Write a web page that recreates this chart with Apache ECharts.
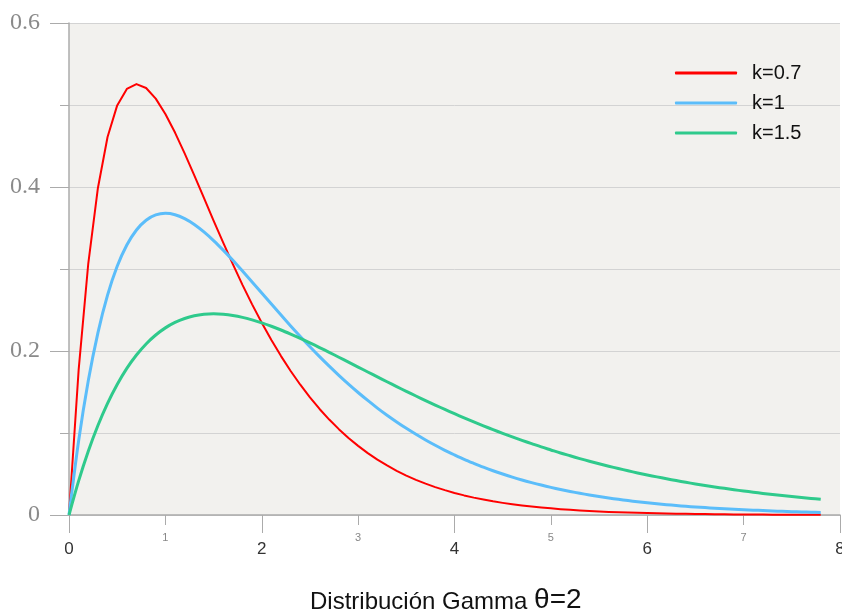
<!DOCTYPE html>
<html>
<head>
<meta charset="utf-8">
<script src="https://cdn.jsdelivr.net/npm/echarts@6/dist/echarts.min.js"></script>
<style>html,body{margin:0;padding:0;background:#fff}#c{width:842px;height:612px}</style>
</head>
<body>
<div id="c"></div>
<script>
var xs = [0,0.1,0.2,0.3,0.4,0.5,0.6,0.7,0.8,0.9,1.0,1.1,1.2,1.3,1.4,1.5,1.6,1.7,1.8,1.9,2.0,2.1,2.2,2.3,2.4,2.5,2.6,2.7,2.8,2.9,3.0,3.1,3.2,3.3,3.4,3.5,3.6,3.7,3.8,3.9,4.0,4.1,4.2,4.3,4.4,4.5,4.6,4.7,4.8,4.9,5.0,5.1,5.2,5.3,5.4,5.5,5.6,5.7,5.8,5.9,6.0,6.1,6.2,6.3,6.4,6.5,6.6,6.7,6.8,6.9,7.0,7.1,7.2,7.3,7.4,7.5,7.6,7.7,7.8];
var seriesNames = ['k=0.7','k=1','k=1.5'];
var k07 = [0,0.1769,0.3067,0.3988,0.4610,0.4995,0.5196,0.5255,0.5207,0.5078,0.4891,
  0.4664,0.4410,0.4142,0.3867,0.3591,0.3321,0.3059,0.2807,0.2569,0.2344,
  0.2134,0.1938,0.1756,0.1589,0.1434,0.1293,0.1164,0.1047,0.0940,0.0843,
  0.0755,0.0675,0.0604,0.0539,0.0481,0.0429,0.0382,0.0340,0.0303,0.0269,
  0.0239,0.0212,0.0189,0.0167,0.0148,0.0131,0.0116,0.0103,0.0091,0.0081,
  0.0071,0.0063,0.0056,0.0049,0.0043,0.0038,0.0034,0.0030,0.0026,0.0023,
  0.0020,0.0018,0.0016,0.0014,0.0012,0.0011,0.0010,0.0008,0.0007,0.0006,
  0.0006,0.0005,0.0004,0.0004,0.0003,0.0003,0.0003,0.0002];
var k1 = [0,0.0905,0.1637,0.2222,0.2681,0.3033,0.3293,0.3476,0.3595,0.3659,0.3679,
  0.3662,0.3614,0.3543,0.3452,0.3347,0.3230,0.3106,0.2975,0.2842,0.2707,
  0.2572,0.2438,0.2306,0.2177,0.2052,0.1931,0.1815,0.1703,0.1596,0.1494,
  0.1397,0.1304,0.1217,0.1135,0.1057,0.0984,0.0915,0.0850,0.0789,0.0733,
  0.0679,0.0630,0.0583,0.0540,0.0500,0.0462,0.0427,0.0395,0.0365,0.0337,
  0.0311,0.0287,0.0265,0.0244,0.0225,0.0207,0.0191,0.0176,0.0162,0.0149,
  0.0137,0.0126,0.0116,0.0106,0.0098,0.0090,0.0082,0.0076,0.0070,0.0064,
  0.0059,0.0054,0.0049,0.0045,0.0041,0.0038,0.0035,0.0032];
var k15 = [0,0.0416,0.0778,0.1092,0.1362,0.1592,0.1788,0.1951,0.2086,0.2195,0.2282,
  0.2348,0.2396,0.2429,0.2447,0.2453,0.2447,0.2433,0.2410,0.2379,0.2343,
  0.2302,0.2256,0.2206,0.2154,0.2099,0.2042,0.1984,0.1924,0.1865,0.1804,
  0.1744,0.1684,0.1625,0.1566,0.1508,0.1451,0.1396,0.1341,0.1287,0.1235,
  0.1184,0.1135,0.1087,0.1041,0.0996,0.0952,0.0910,0.0870,0.0830,0.0793,
  0.0756,0.0722,0.0688,0.0656,0.0625,0.0595,0.0567,0.0539,0.0513,0.0488,
  0.0465,0.0442,0.0420,0.0399,0.0379,0.0360,0.0342,0.0325,0.0308,0.0293,
  0.0278,0.0263,0.0250,0.0237,0.0225,0.0213,0.0202,0.0191];
var titleMain = 'Distribución Gamma ';
var titleTheta = 'θ=2';

function pairs(ys){ return xs.map(function(x,i){ return [x, ys[i]]; }); }

var chart = echarts.init(document.getElementById('c'));
var axisCol = '#ababab';
var gridCol = '#d3d3d3';
chart.setOption({
  animation: false,
  backgroundColor: '#ffffff',
  title: {
    text: '{a|' + titleMain + '}{b|' + titleTheta + '}',
    left: 305, top: 581,
    textStyle: {
      fontWeight: 'normal',
      rich: {
        a: {fontFamily: 'Liberation Sans', fontSize: 24, fontWeight: 'normal', color: '#111', verticalAlign: 'bottom', lineHeight: 28},
        b: {fontFamily: 'Liberation Sans', fontSize: 28, fontWeight: 'normal', color: '#111', verticalAlign: 'bottom', lineHeight: 28}
      }
    }
  },
  legend: {
    orient: 'vertical', left: 675, top: 63, padding: 0,
    itemWidth: 62, itemHeight: 3, itemGap: 10, icon: 'roundRect',
    data: seriesNames,
    textStyle: {fontFamily: 'Liberation Sans', fontSize: 20, color: '#111', lineHeight: 20, padding: [0,0,0,10]}
  },
  grid: {left: 69, right: 2, top: 23, bottom: 97, show: true, backgroundColor: '#f2f1ee', borderWidth: 0, outerBoundsMode: 'none', containLabel: false},
  xAxis: [{
    type: 'value', position: 'bottom', min: 0, max: 8, interval: 2,
    axisLine: {show: true, onZero: false, lineStyle: {color: axisCol, width: 1.5}},
    axisTick: {show: true, length: 18, lineStyle: {color: axisCol, width: 1}},
    axisLabel: {fontFamily: 'Liberation Sans', fontSize: 17, color: '#333', margin: 26},
    splitLine: {show: false}
  },{
    type: 'value', position: 'bottom', min: 0, max: 8, interval: 1,
    axisLine: {show: false},
    axisTick: {show: true, length: 10, lineStyle: {color: axisCol, width: 1}},
    axisLabel: {fontFamily: 'Liberation Sans', fontSize: 11, color: '#888', margin: 17,
      formatter: function(v){ return (Math.round(v) % 2 === 1) ? String(v) : ''; }},
    splitLine: {show: false}
  }],
  yAxis: [{
    type: 'value', position: 'left', min: 0, max: 0.6, interval: 0.2,
    axisLine: {show: true, onZero: false, lineStyle: {color: axisCol, width: 1.5}},
    axisTick: {show: true, length: 19, lineStyle: {color: axisCol, width: 1}},
    axisLabel: {fontFamily: 'Liberation Serif', fontSize: 24, color: '#8a8a8a', margin: 29},
    splitLine: {show: true, lineStyle: {color: gridCol, width: 1}}
  },{
    type: 'value', position: 'left', min: 0, max: 0.6, interval: 0.1,
    axisLine: {show: false},
    axisTick: {show: true, length: 9, lineStyle: {color: axisCol, width: 1}},
    axisLabel: {show: false},
    splitLine: {show: true, lineStyle: {color: gridCol, width: 1}}
  }],
  series: [
    {name: seriesNames[0], type: 'line', data: pairs(k07), symbol: 'none', color: '#ff0000',
     lineStyle: {width: 2, join: 'round'}},
    {name: seriesNames[1], type: 'line', data: pairs(k1), symbol: 'none', color: '#5bbdfa', smooth: 0.3,
     lineStyle: {width: 3, join: 'round'}},
    {name: seriesNames[2], type: 'line', data: pairs(k15), symbol: 'none', color: '#2fca8c', smooth: 0.3,
     lineStyle: {width: 3, join: 'round'}}
  ]
});
</script>
</body>
</html>
